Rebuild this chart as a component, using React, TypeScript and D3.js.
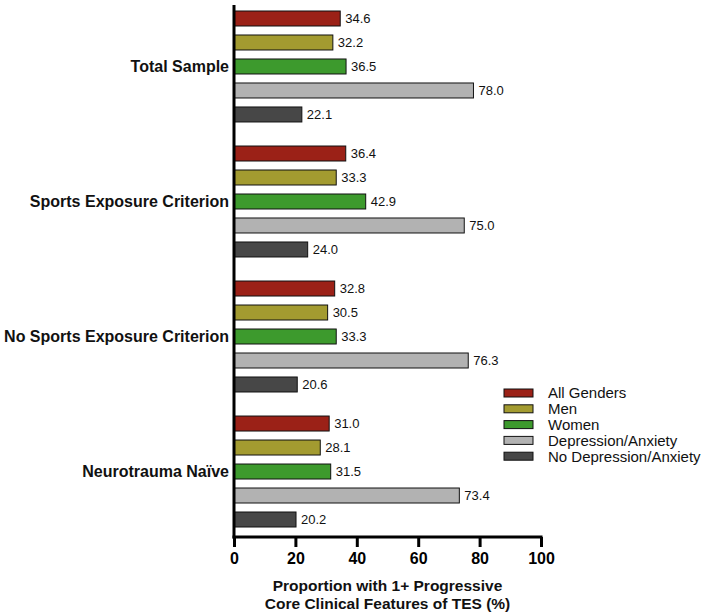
import React, { useEffect, useRef } from "react";
import * as d3 from "d3";

const groups = [
  "Total Sample",
  "Sports Exposure Criterion",
  "No Sports Exposure Criterion",
  "Neurotrauma Naïve",
];
const seriesNames = [
  "All Genders",
  "Men",
  "Women",
  "Depression/Anxiety",
  "No Depression/Anxiety",
];
const allGenders = [34.6, 36.4, 32.8, 31.0];
const men = [32.2, 33.3, 30.5, 28.1];
const women = [36.5, 42.9, 33.3, 31.5];
const depression = [78.0, 75.0, 76.3, 73.4];
const noDepression = [22.1, 24.0, 20.6, 20.2];
const xTicks = [0, 20, 40, 60, 80, 100];

const colors = ["#9b2117", "#a39b30", "#3d9a2d", "#b2b2b2", "#474747"];

const App = () => {
  const ref = useRef<SVGSVGElement>(null);

  useEffect(() => {
    const svg = d3.select(ref.current);
    svg.selectAll("*").remove();

    const font = "Arial, 'Liberation Sans', sans-serif";
    const series = [allGenders, men, women, depression, noDepression];

    const x = d3.scaleLinear().domain([0, 100]).range([234, 541]);
    const y0 = d3
      .scaleBand<string>()
      .domain(groups)
      .range([11, 527])
      .paddingInner(0.178)
      .paddingOuter(0);
    const y1 = d3
      .scaleBand<string>()
      .domain(seriesNames)
      .range([0, y0.bandwidth()])
      .paddingInner(0.375)
      .paddingOuter(0);

    // bars
    groups.forEach((grp, gi) => {
      const g = svg.append("g").attr("transform", `translate(0,${y0(grp)})`);
      seriesNames.forEach((s, si) => {
        const v = series[si][gi];
        g.append("rect")
          .attr("x", x(0))
          .attr("y", y1(s)!)
          .attr("width", x(v) - x(0))
          .attr("height", y1.bandwidth())
          .attr("fill", colors[si])
          .attr("stroke", "#111")
          .attr("stroke-width", 1);
        g.append("text")
          .attr("x", x(v) + 5)
          .attr("y", y1(s)! + y1.bandwidth() / 2)
          .attr("dy", "0.36em")
          .attr("font-family", font)
          .attr("font-size", 13)
          .attr("fill", "#111")
          .text(v.toFixed(1));
      });
      // group label
      svg
        .append("text")
        .attr("x", 229)
        .attr("y", y0(grp)! + y1("Women")! + y1.bandwidth() / 2)
        .attr("dy", "0.36em")
        .attr("text-anchor", "end")
        .attr("font-family", font)
        .attr("font-weight", "bold")
        .attr("font-size", 16)
        .attr("fill", "#111")
        .text(grp);
    });

    // y axis line
    svg
      .append("line")
      .attr("x1", x(0))
      .attr("x2", x(0))
      .attr("y1", 5)
      .attr("y2", 538.5)
      .attr("stroke", "#000")
      .attr("stroke-width", 3);

    // x axis
    const xAxis = svg
      .append("g")
      .attr("transform", "translate(0,537)")
      .call(d3.axisBottom(x).tickValues(xTicks).tickSize(10).tickPadding(6));
    xAxis
      .select(".domain")
      .attr("stroke", "#000")
      .attr("stroke-width", 3)
      .attr("d", `M${x(0) - 1.5},0H${x(100) + 1.5}`);
    xAxis.selectAll(".tick line").attr("stroke", "#000").attr("stroke-width", 3);
    xAxis
      .selectAll(".tick text")
      .attr("font-family", font)
      .attr("font-weight", "bold")
      .attr("font-size", 16)
      .attr("fill", "#000");

    const mid = (x(0) + x(100)) / 2;
    ["Proportion with 1+ Progressive", "Core Clinical Features of TES (%)"].forEach(
      (t, i) => {
        svg
          .append("text")
          .attr("x", mid)
          .attr("y", 591 + i * 17.5)
          .attr("text-anchor", "middle")
          .attr("font-family", font)
          .attr("font-weight", "bold")
          .attr("font-size", 15.5)
          .attr("fill", "#111")
          .text(t);
      }
    );

    // legend
    const legend = svg.append("g").attr("transform", "translate(504,393)");
    seriesNames.forEach((s, i) => {
      const row = legend.append("g").attr("transform", `translate(0,${i * 15.8})`);
      row
        .append("rect")
        .attr("x", 0)
        .attr("y", -4)
        .attr("width", 29)
        .attr("height", 8)
        .attr("fill", colors[i])
        .attr("stroke", "#111")
        .attr("stroke-width", 1);
      row
        .append("text")
        .attr("x", 44)
        .attr("y", 0)
        .attr("dy", "0.36em")
        .attr("font-family", font)
        .attr("font-size", 15)
        .attr("fill", "#111")
        .text(s);
    });
  }, []);

  return (
    <div style={{ position: "absolute", left: 0, top: 0 }}>
      <svg ref={ref} width={708} height={614} style={{ display: "block", background: "#fff" }} />
    </div>
  );
};

export default App;
